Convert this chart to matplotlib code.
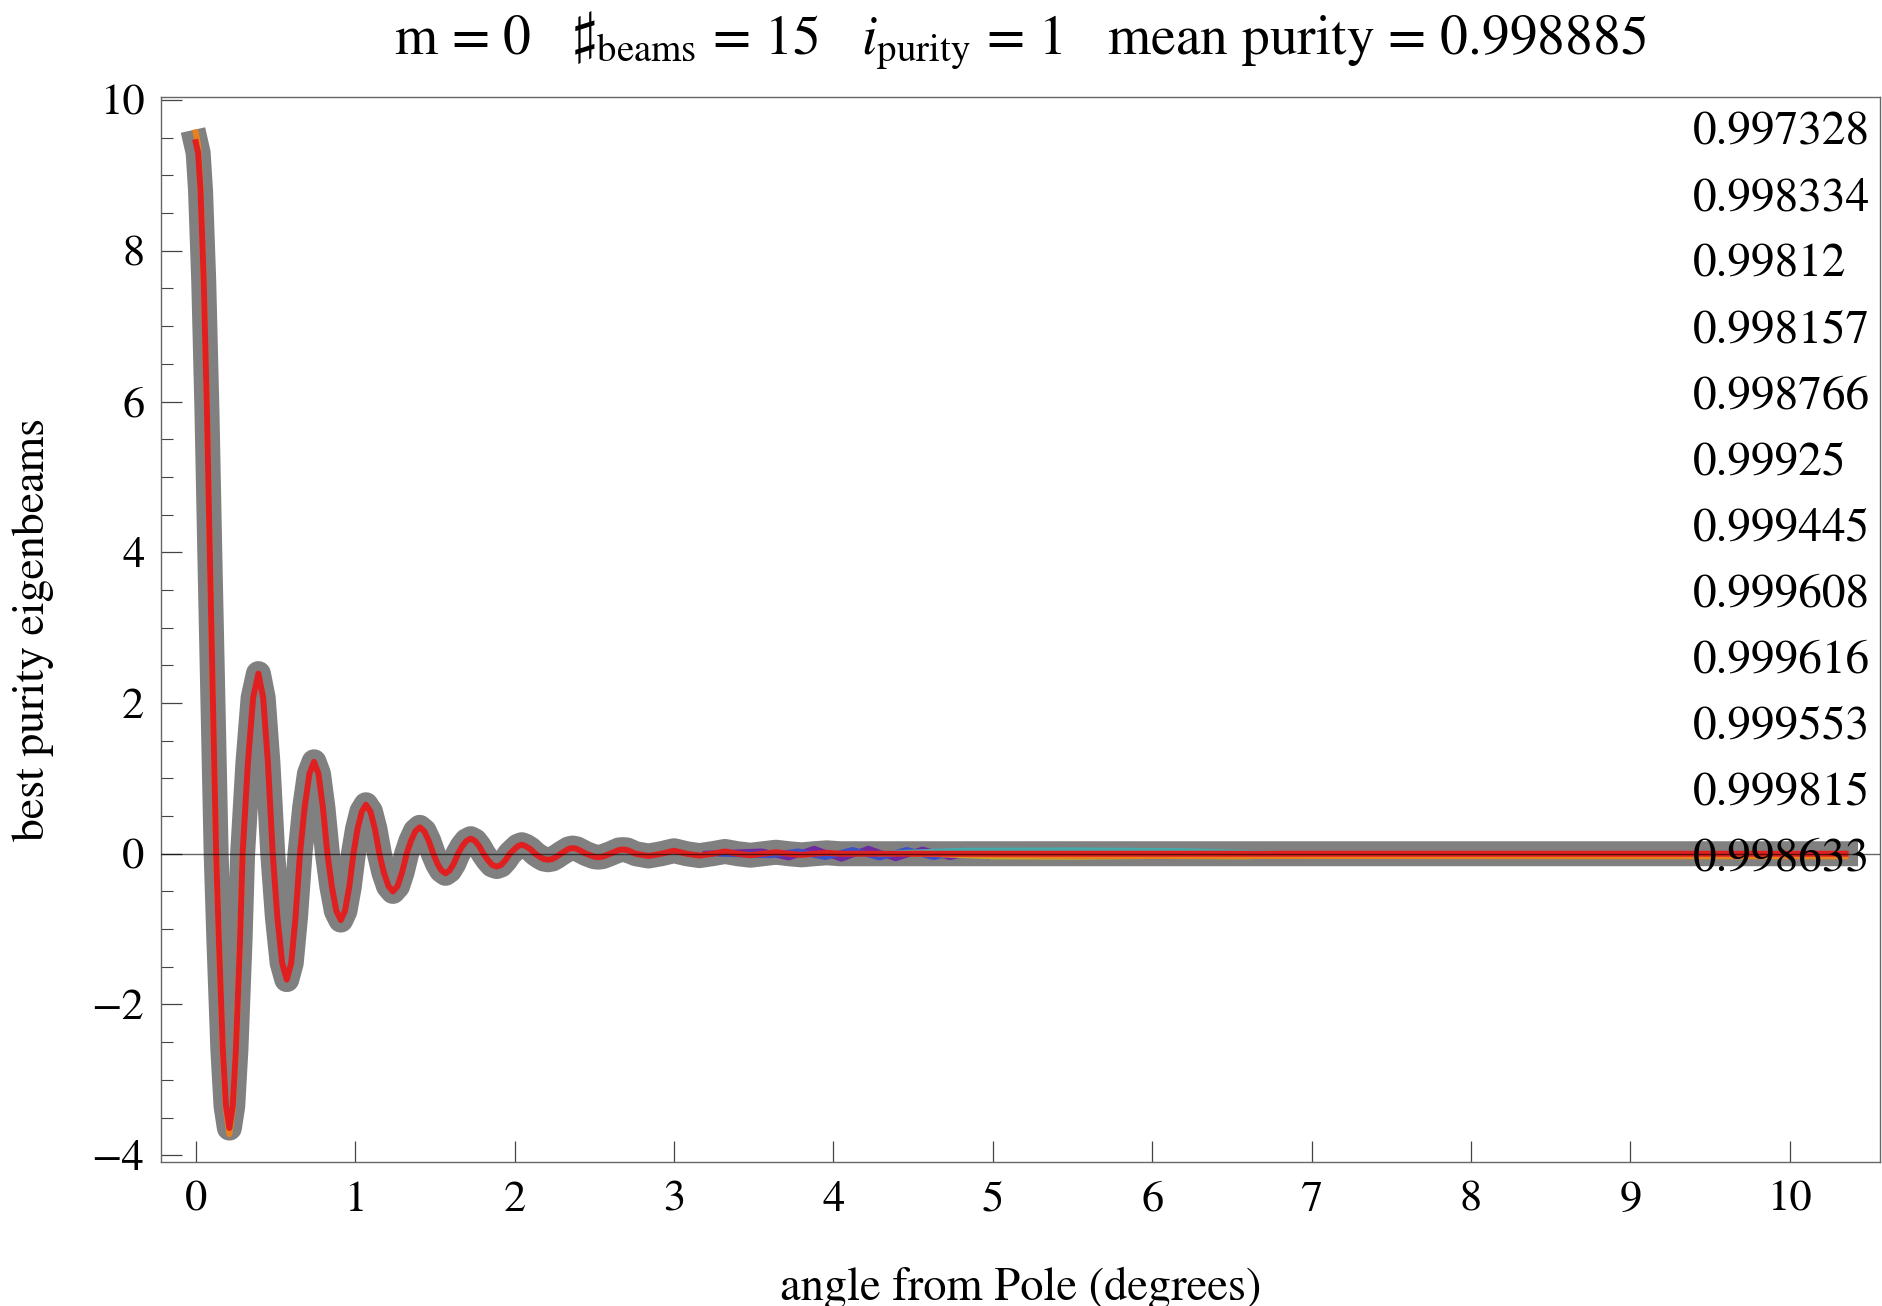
import numpy as np
import matplotlib.pyplot as plt
from matplotlib.ticker import MultipleLocator

plt.rcParams['font.family'] = ['STIXGeneral', 'DejaVu Serif']
plt.rcParams['mathtext.fontset'] = 'stix'

# best purity eigenbeam (red)
beam_x = [0.0, 0.015, 0.03, 0.05, 0.07, 0.09, 0.11, 0.128,
          0.145, 0.17, 0.19, 0.211, 0.232, 0.252, 0.278, 0.294,
          0.327, 0.36, 0.393, 0.423, 0.453, 0.483,
          0.512, 0.542, 0.571, 0.599, 0.626, 0.654,
          0.683, 0.713, 0.742, 0.77, 0.798, 0.826,
          0.854, 0.882, 0.91, 0.936, 0.963, 0.989,
          1.015, 1.042, 1.068, 1.096, 1.124, 1.152,
          1.18, 1.209, 1.237, 1.266, 1.294, 1.323,
          1.35, 1.378, 1.405, 1.433, 1.462, 1.49,
          1.516, 1.541, 1.567, 1.593, 1.619, 1.645,
          1.672, 1.698, 1.725, 1.752, 1.778, 1.805,
          1.833, 1.86, 1.888, 1.915, 1.943, 1.97,
          2.0, 2.02, 2.045, 2.07, 2.1, 2.13,
          2.157, 2.183, 2.21, 2.237, 2.263, 2.29,
          2.34, 2.365, 2.39, 2.45,
          2.5, 2.525, 2.55, 2.6,
          2.655, 2.68, 2.705, 2.76,
          2.84, 2.92, 3.0, 3.08, 3.16, 3.24, 3.32, 3.4, 3.48, 3.56,
          3.64, 3.72, 3.8, 3.88, 3.96, 4.04, 4.5, 10.35]
beam_y = [9.44, 9.3, 8.8, 7.6, 5.9, 3.8, 1.8, 0.0,
          -1.14, -2.6, -3.35, -3.64, -3.35, -2.6, -1.14, 0.0,
          1.2, 2.07, 2.39, 2.07, 1.2, 0.0,
          -0.84, -1.45, -1.67, -1.45, -0.84, 0.0,
          0.61, 1.06, 1.22, 1.06, 0.61, 0.0,
          -0.44, -0.76, -0.88, -0.76, -0.44, 0.0,
          0.33, 0.56, 0.65, 0.56, 0.33, 0.0,
          -0.25, -0.43, -0.5, -0.43, -0.25, 0.0,
          0.17, 0.3, 0.35, 0.3, 0.17, 0.0,
          -0.13, -0.22, -0.26, -0.22, -0.13, 0.0,
          0.1, 0.17, 0.2, 0.17, 0.1, 0.0,
          -0.085, -0.15, -0.17, -0.15, -0.085, 0.0,
          0.06, 0.1, 0.12, 0.1, 0.06, 0.0,
          -0.04, -0.07, -0.08, -0.07, -0.04, 0.0,
          0.065, 0.075, 0.065, 0.0,
          -0.04, -0.045, -0.04, 0.0,
          0.05, 0.055, 0.05, 0.0,
          -0.03, 0.0, 0.04, 0.0, -0.025, 0.0, 0.03, 0.0, -0.02, 0.0,
          0.02, 0.0, -0.015, 0.0, 0.012, 0.0, 0.0, 0.0]

# runner-up beam (orange): main lobe and first trough, then the far tail
orange_x = [0.0, 0.015, 0.03, 0.05, 0.07, 0.09, 0.11, 0.128,
            0.145, 0.17, 0.19, 0.211, 0.232, 0.252, 0.278, 0.294]
orange_y = [9.57, 9.4, 8.85, 7.6, 5.9, 3.8, 1.8, 0.0,
            -1.14, -2.62, -3.4, -3.72, -3.4, -2.62, -1.14, 0.0]
orange_tail_x = [4.5, 5.5, 10.35]
orange_tail_y = [0.0, -0.03, -0.035]

# other beams, only visible where they wiggle in the tail
purple_x = [3.2, 3.55, 3.72, 3.88, 4.05, 4.22, 4.39, 4.56, 4.73, 4.9, 5.07, 5.25, 5.6, 6.5]
purple_y = [0.0, 0.03, -0.05, 0.066, -0.066, 0.066, -0.06, 0.055, -0.045, 0.035, -0.025, 0.015, 0.0, 0.0]
blue_x = [3.3, 3.6, 3.78, 3.95, 4.12, 4.29, 4.46, 4.63, 4.8, 4.97, 5.14, 5.31, 5.48, 5.8]
blue_y = [0.0, -0.02, 0.03, -0.045, 0.05, -0.05, 0.05, -0.045, 0.04, -0.035, 0.03, -0.02, 0.01, 0.0]
cyan_x = [4.3, 4.8, 5.5, 6.2, 6.8]
cyan_y = [0.0, 0.04, 0.045, 0.035, 0.0]
yellow_x = [4.6, 5.0, 5.5, 6.0, 6.6]
yellow_y = [0.0, -0.035, -0.04, -0.03, -0.035]

purities = ["0.997328", "0.998334", "0.99812", "0.998157", "0.998766", "0.99925",
            "0.999445", "0.999608", "0.999616", "0.999553", "0.999815", "0.998633"]

fig = plt.figure(figsize=(18.83, 13.06), dpi=100)
ax = fig.add_axes([161 / 1883, 144 / 1306, 1719 / 1883, 1065 / 1306])

ax.plot(beam_x, beam_y, color="#808080", lw=18, solid_capstyle="projecting",
        solid_joinstyle="round", zorder=1)
ax.plot(purple_x, purple_y, color="#6e28a0", lw=4.3, zorder=2)
ax.plot(blue_x, blue_y, color="#3c50c8", lw=4.3, zorder=2)
ax.plot(cyan_x, cyan_y, color="#46aaaa", lw=4.3, zorder=2)
ax.plot(yellow_x, yellow_y, color="#c8aa28", lw=4.3, zorder=2)
ax.plot(orange_tail_x, orange_tail_y, color="#e8801e", lw=4.3, zorder=3)
ax.plot(orange_x, orange_y, color="#e8801e", lw=4.3, solid_joinstyle="round", zorder=3)
ax.plot(beam_x, beam_y, color="#e02020", lw=4.3, solid_joinstyle="round", zorder=4)
ax.axhline(0, color="black", lw=1.0, alpha=0.6, zorder=5)

for k, p in enumerate(purities):
    ax.text(9.39, (len(purities) - 1 - k) * 0.875, p, fontsize=34,
            ha="left", va="center_baseline", zorder=6)

ax.set_xlim(-0.218, 10.566)
ax.set_ylim(-4.09, 10.04)
ax.xaxis.set_major_locator(MultipleLocator(1))
ax.yaxis.set_major_locator(MultipleLocator(2))
ax.yaxis.set_minor_locator(MultipleLocator(0.5))
ax.tick_params(axis="both", which="major", direction="in", length=15, width=0.9,
               color="#444444", labelsize=32)
ax.tick_params(axis="x", pad=14, top=False)
ax.tick_params(axis="y", pad=12, right=False)
ax.tick_params(axis="y", which="minor", direction="in", length=8.5, width=0.8,
               color="#444444", right=False)
for s in ax.spines.values():
    s.set_color("#666666")
    s.set_linewidth(1.0)

ax.set_xlabel("angle from Pole (degrees)", fontsize=33.5)
ax.xaxis.set_label_coords(0.5, -0.098)
ax.set_ylabel("best purity eigenbeams", fontsize=33)
ax.yaxis.set_label_coords(-0.062, 0.5)

fig.text(1020.5 / 1883, 1 - 54 / 1306,
         r"m = 0   $\sharp_{\mathrm{beams}}$ = 15   $i_{\mathrm{purity}}$ = 1   mean purity = 0.998885",
         fontsize=40, ha="center", va="baseline")

fig.savefig("out.png", dpi=100)
